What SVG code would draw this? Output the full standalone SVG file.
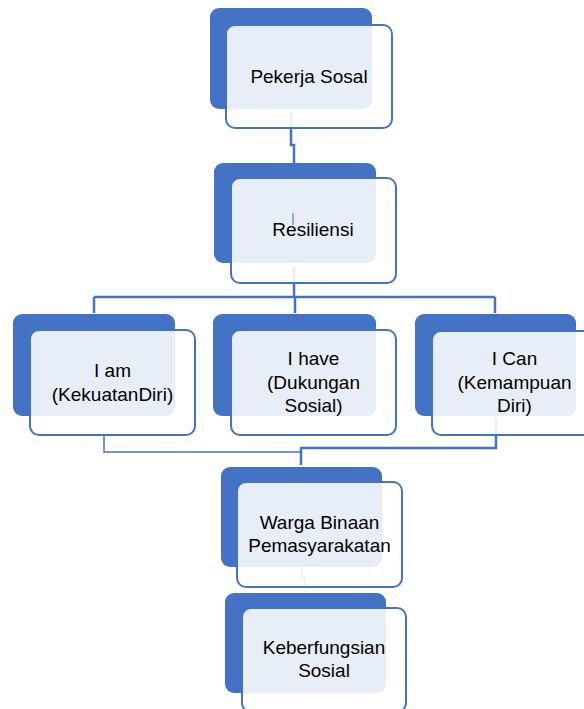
<svg xmlns="http://www.w3.org/2000/svg" width="584" height="709" viewBox="0 0 584 709">
<style>
.back{fill:#4472C4}
.front{fill:#ffffff;fill-opacity:0.88;stroke:#4472C4;stroke-width:2}
.con{fill:none;stroke:#4472C4;stroke-width:2.5}
.thin{fill:none;stroke:#4472C4;stroke-width:1.5}
text{font-family:"Liberation Sans",Arial,sans-serif;font-size:19px;fill:#000;text-anchor:middle}
</style>
<rect width="584" height="709" fill="#ffffff"/>
<g id="connectors">
<path class="con" d="M291,113 V145 H294 V163"/>
<path class="con" d="M294,267 V297"/>
<path class="con" d="M94,297 H495 M94,297 V313 M295,297 V313 M495,297 V313"/>
<path class="thin" d="M104,435 V452 H301"/>
<path class="con" d="M496,418 V448 H300 M301,448 V465"/>
<path class="thin" d="M302,568 V578 H305 V586"/>
</g>
<g id="node-pekerja">
<rect class="back" x="210" y="8" width="162" height="101" rx="9"/>
<rect class="front" x="226" y="25" width="166" height="103" rx="9"/>
<text x="309" y="83">Pekerja Sosal</text>
</g>
<g id="node-resiliensi">
<rect class="back" x="214" y="163" width="162" height="100" rx="9"/>
<rect class="front" x="231" y="178" width="165" height="105" rx="9"/>
<line x1="293" y1="213" x2="293" y2="225" stroke="#4472C4" stroke-width="1"/>
<text x="313" y="236">Resiliensi</text>
</g>
<g id="node-iam">
<rect class="back" x="13" y="314" width="162" height="102" rx="9"/>
<rect class="front" x="30" y="330" width="165" height="105" rx="9"/>
<text x="112.5" y="377">I am</text>
<text x="112.5" y="401">(KekuatanDiri)</text>
</g>
<g id="node-ihave">
<rect class="back" x="213" y="314" width="163" height="102" rx="9"/>
<rect class="front" x="231" y="330" width="165" height="105" rx="9"/>
<text x="313.5" y="365">I have</text>
<text x="313.5" y="389">(Dukungan</text>
<text x="313.5" y="412">Sosial)</text>
</g>
<g id="node-ican">
<rect class="back" x="415" y="314" width="161" height="102" rx="9"/>
<rect class="front" x="432" y="331" width="165" height="104" rx="9"/>
<text x="514.5" y="365">I Can</text>
<text x="514.5" y="389">(Kemampuan</text>
<text x="514.5" y="412">Diri)</text>
</g>
<g id="node-warga">
<rect class="back" x="221" y="467" width="161" height="100" rx="9"/>
<rect class="front" x="237" y="482" width="165" height="105" rx="9"/>
<text x="319.5" y="529">Warga Binaan</text>
<text x="319.5" y="552">Pemasyarakatan</text>
</g>
<g id="node-keberfungsian">
<rect class="back" x="225" y="593" width="161" height="100" rx="9"/>
<rect class="front" x="242" y="608" width="164" height="104" rx="9"/>
<text x="324" y="654">Keberfungsian</text>
<text x="324" y="677">Sosial</text>
</g>
</svg>
